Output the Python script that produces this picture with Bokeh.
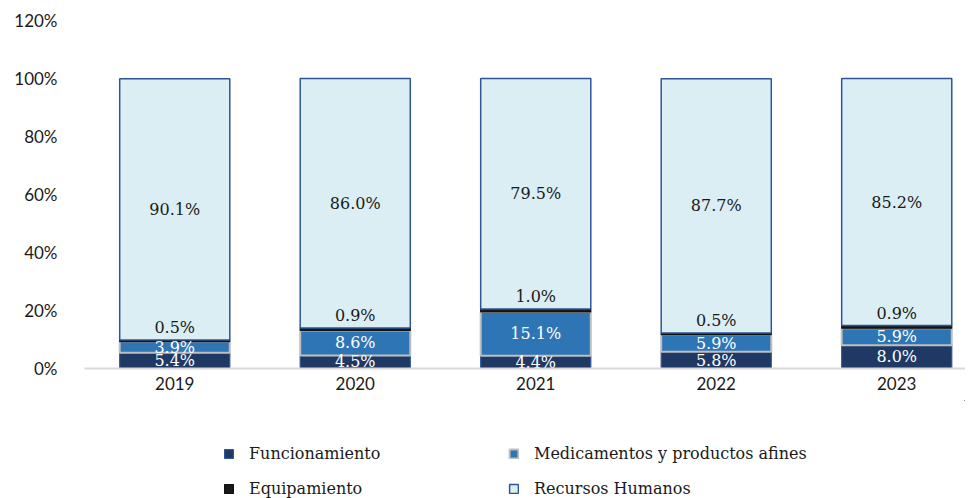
from bokeh.plotting import figure
from bokeh.layouts import column
from bokeh.models import ColumnDataSource, FixedTicker, PrintfTickFormatter, Legend, LegendItem
from bokeh.core.properties import value
from bokeh.embed import file_html
from bokeh.resources import INLINE

years = ["2019", "2020", "2021", "2022", "2023"]
funcionamiento = [5.4, 4.5, 4.4, 5.8, 8.0]
medicamentos = [3.9, 8.6, 15.1, 5.9, 5.9]
equipamiento = [0.5, 0.9, 1.0, 0.5, 0.9]
recursos_humanos = [90.1, 86.0, 79.5, 87.7, 85.2]
series_names = ["Funcionamiento", "Medicamentos y productos afines", "Equipamiento", "Recursos Humanos"]

xs = list(range(len(years)))
b1 = [0.0] * len(xs)
t1 = [b + v for b, v in zip(b1, funcionamiento)]
t2 = [b + v for b, v in zip(t1, medicamentos)]
t3 = [b + v for b, v in zip(t2, equipamiento)]
t4 = [b + v for b, v in zip(t3, recursos_humanos)]

def fmt(vals):
    return ["%.1f%%" % v for v in vals]

src = ColumnDataSource(dict(
    x=xs,
    b1=b1, t1=t1, t2=t2, t3=t3, t4=t4,
    m1=[(a + b) / 2 for a, b in zip(b1, t1)],
    m2=[(a + b) / 2 for a, b in zip(t1, t2)],
    m4=[(a + b) / 2 for a, b in zip(t3, t4)],
    l1=fmt(funcionamiento), l2=fmt(medicamentos), l3=fmt(equipamiento), l4=fmt(recursos_humanos),
))

styles = [
    dict(fill_color="#1f3864", line_color="#2f5597", line_width=1.2),
    dict(fill_color="#2e75b6", line_color="#bfbfbf", line_width=2),
    dict(fill_color="#1a1a1a", line_color="#111111", line_width=1.2),
    dict(fill_color="#dbeef4", line_color="#2f5597", line_width=1.5),
]
segments = [("b1", "t1"), ("t1", "t2"), ("t2", "t3"), ("t3", "t4")]

p = figure(width=965, height=400, x_range=(-0.5, 4.381), y_range=(0, 120),
           output_backend="svg", toolbar_location=None,
           min_border_left=84, min_border_right=0, min_border_top=20, min_border_bottom=32)
p.outline_line_color = None
p.xgrid.visible = False
p.ygrid.visible = False

W = 0.61
for (b, t), s in zip(segments, styles):
    p.vbar(x="x", bottom=b, top=t, width=W, source=src, **s)

lf = value("DejaVu Serif")
p.text(x="x", y="m1", text="l1", source=src, text_align="center", text_baseline="middle",
       text_color="white", text_font=lf, text_font_size="16px")
p.text(x="x", y="m2", text="l2", source=src, text_align="center", text_baseline="middle",
       text_color="white", text_font=lf, text_font_size="16px")
p.text(x="x", y="t3", text="l3", source=src, text_align="center", text_baseline="bottom",
       y_offset=-3, text_color="#1a1a1a", text_font=lf, text_font_size="16px")
p.text(x="x", y="m4", text="l4", source=src, text_align="center", text_baseline="middle",
       text_color="#1a1a1a", text_font=lf, text_font_size="16px")

p.yaxis.ticker = FixedTicker(ticks=[0, 20, 40, 60, 80, 100, 120])
p.yaxis.formatter = PrintfTickFormatter(format="%d%%")
p.yaxis.axis_line_color = None
p.yaxis.major_tick_line_color = None
p.yaxis.minor_tick_line_color = None
p.yaxis.major_tick_out = 0
p.yaxis.major_label_standoff = 27
p.yaxis.major_label_text_font = "Lato"
p.yaxis.major_label_text_font_size = "17px"
p.yaxis.major_label_text_color = "#1a1a1a"

p.xaxis.ticker = FixedTicker(ticks=xs)
p.xaxis.major_label_overrides = {i: y for i, y in zip(xs, years)}
p.xaxis.axis_line_color = "#d9d9d9"
p.xaxis.axis_line_width = 2
p.xaxis.major_tick_line_color = None
p.xaxis.minor_tick_line_color = None
p.xaxis.major_tick_out = 0
p.xaxis.major_label_standoff = 8
p.xaxis.major_label_text_font = "Lato"
p.xaxis.major_label_text_font_size = "17px"
p.xaxis.major_label_text_color = "#1a1a1a"

# legend in a separate strip below (its own bars sit outside its visible range)
lg = figure(width=965, height=98, output_backend="svg", toolbar_location=None,
            x_range=(-20, -19), y_range=(-20, -19),
            x_axis_location=None, y_axis_location=None,
            min_border_left=84, min_border_right=0, min_border_top=0, min_border_bottom=0)
lg.outline_line_color = None
lg.xgrid.visible = False
lg.ygrid.visible = False
rs = [lg.vbar(x="x", bottom=b, top=t, width=W, source=src, **s) for (b, t), s in zip(segments, styles)]

legend = Legend(items=[LegendItem(label=n, renderers=[r]) for n, r in zip(series_names, rs)],
                ncols=2, location=(139, 0), orientation="horizontal")
legend.border_line_color = None
legend.background_fill_alpha = 0
legend.padding = 0
legend.margin = 0
legend.spacing = 16
legend.glyph_width = 11
legend.glyph_height = 11
legend.label_standoff = 15
legend.label_width = 243
legend.label_height = 16
legend.label_text_font = "DejaVu Serif"
legend.label_text_font_size = "16px"
legend.label_text_color = "#1a1a1a"
lg.add_layout(legend, "center")

layout = column(p, lg, spacing=0)
open("out.html", "w").write(file_html(layout, INLINE))
